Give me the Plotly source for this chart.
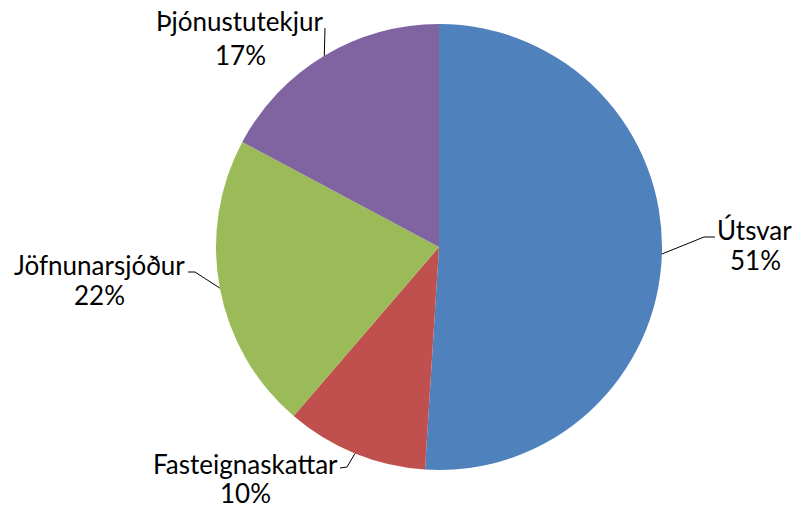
import math
import plotly.graph_objects as go

# ---- data ----
categories = ["Útsvar", "Fasteignaskattar", "Jöfnunarsjóður", "Þjónustutekjur"]
values = [51.0, 10.3, 21.5, 17.2]
colors = ["#4F81BD", "#C0504D", "#9BBB59", "#8064A2"]

# ---- layout (pixels) ----
W, H = 793, 509
CX, CY, R = 439, 247, 223
FONT = "Lato, Calibri, Carlito, sans-serif"
FS = 26
# label line centres and leader-line elbow/end points per slice (pixels)
label_layout = {
    "Útsvar": dict(name=(754, 230), pct=(755, 260), elbow=(704, 237), end=(715, 237)),
    "Fasteignaskattar": dict(name=(246, 464), pct=(245, 493), elbow=(347, 467), end=(340, 468)),
    "Jöfnunarsjóður": dict(name=(99, 265), pct=(99, 295), elbow=(195, 272), end=(188, 272)),
    "Þjónustutekjur": dict(name=(239, 21), pct=(240, 55), elbow=(325, 28), end=(325, 28)),
}

def px(x):
    return x / W

def py(y):
    return 1 - y / H

fig = go.Figure(go.Pie(
    labels=categories, values=values, marker=dict(colors=colors, line=dict(width=0)),
    sort=False, direction="clockwise", rotation=0, textinfo="none", hoverinfo="skip",
    showlegend=False,
    domain=dict(x=[px(CX - R), px(CX + R)], y=[py(CY + R), py(CY - R)]),
))

total = sum(values)
cum = 0.0
annotations, shapes = [], []
for cat, v in zip(categories, values):
    mid = (cum + v / 2) / total * 2 * math.pi
    cum += v
    ex = CX + R * math.sin(mid)
    ey = CY - R * math.cos(mid)
    lay = label_layout[cat]
    pct = round(v / total * 100)
    for key, txt in (("name", cat), ("pct", f"{pct}%")):
        annotations.append(dict(
            x=px(lay[key][0]), y=py(lay[key][1]), xref="paper", yref="paper",
            text=txt, showarrow=False, align="center",
            xanchor="center", yanchor="middle", borderpad=0,
            font=dict(family=FONT, size=FS, color="#000000"),
        ))
    (bx, by), (tx, ty) = lay["elbow"], lay["end"]
    path = f"M {px(ex)} {py(ey)} L {px(bx)} {py(by)} L {px(tx)} {py(ty)}"
    shapes.append(dict(type="path", xref="paper", yref="paper", path=path,
                       line=dict(color="#000000", width=1)))

fig.update_layout(
    width=W, height=H, margin=dict(l=0, r=0, t=0, b=0),
    paper_bgcolor="white", plot_bgcolor="white",
    annotations=annotations, shapes=shapes,
)
fig.write_html("out.html", config={"displayModeBar": False},
               post_script="document.body.style.margin='0';document.body.style.overflow='hidden';")
